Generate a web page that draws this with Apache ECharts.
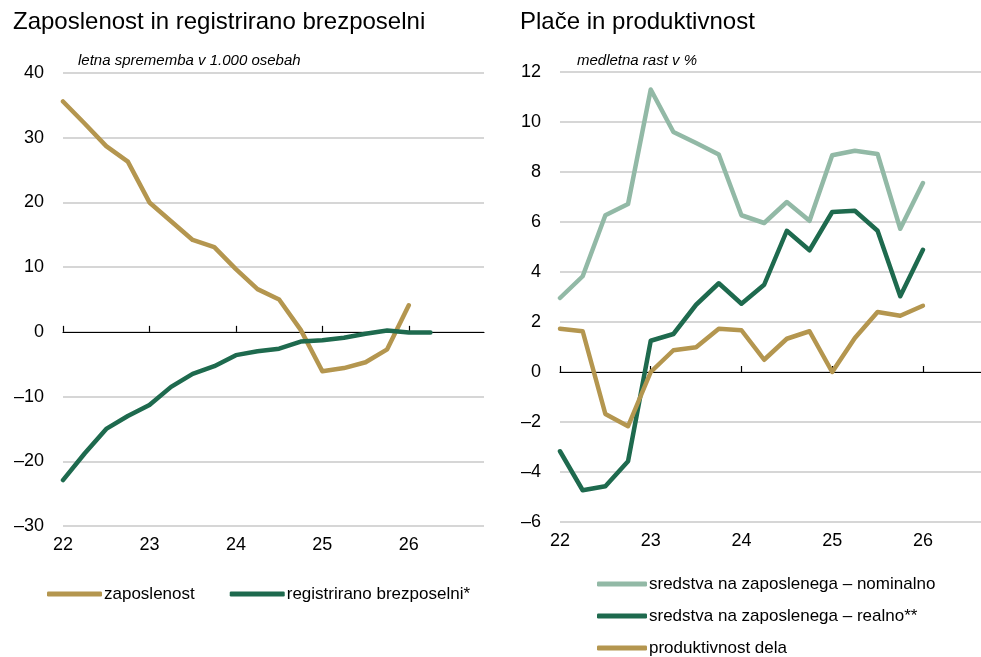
<!DOCTYPE html>
<html>
<head>
<meta charset="utf-8">
<script src="https://cdn.jsdelivr.net/npm/echarts@6/dist/echarts.min.js"></script>
<style>
  html, body { margin: 0; padding: 0; background: #fff; }
  #chart { width: 981px; height: 657px; }
</style>
</head>
<body>
<div id="chart"></div>
<script>
// quarters: 22 = 2022 Q1, 22.25 = 2022 Q2, ...
const quarters = [22, 22.25, 22.5, 22.75, 23, 23.25, 23.5, 23.75, 24, 24.25, 24.5, 24.75, 25, 25.25, 25.5, 25.75, 26, 26.25];
const yearTicks = [22, 23, 24, 25, 26];

// left panel: letna sprememba v 1.000 osebah
const zaposlenost = [35.6, 32.2, 28.7, 26.3, 20.0, 17.1, 14.2, 13.1, 9.7, 6.6, 5.0, 0.3, -6.1, -5.6, -4.7, -2.7, 4.1];
const brezposelni = [-22.9, -18.8, -15.0, -13.0, -11.3, -8.5, -6.5, -5.3, -3.6, -3.0, -2.6, -1.5, -1.3, -0.9, -0.3, 0.2, -0.1, -0.1];

// right panel: medletna rast v %
const nominalno = [2.96, 3.83, 6.27, 6.72, 11.3, 9.6, 9.16, 8.7, 6.27, 5.96, 6.8, 6.05, 8.67, 8.85, 8.72, 5.73, 7.56];
const realno = [-3.17, -4.73, -4.57, -3.57, 1.25, 1.52, 2.69, 3.55, 2.73, 3.49, 5.65, 4.87, 6.4, 6.45, 5.65, 3.03, 4.89];
const produktivnost = [1.73, 1.63, -1.68, -2.17, 0, 0.87, 0.99, 1.73, 1.67, 0.49, 1.33, 1.63, 0, 1.36, 2.4, 2.25, 2.65];

const rightNames = ["sredstva na zaposlenega \u2013 nominalno", "sredstva na zaposlenega \u2013 realno**", "produktivnost dela"];

const GOLD = "#b4964f";
const DARK = "#1e6a4e";
const LIGHT = "#92b9a6";
const FONT = "Liberation Sans, Arial, sans-serif";

function pairs(vals) {
  return vals.map((v, i) => [quarters[i], v]);
}
function dashMinus(v) {
  return String(v).replace("-", "\u2013");
}

const chart = echarts.init(document.getElementById("chart"));

function xAxes(gridIndex, max, yIdx) {
  return [
    {
      // labels at the bottom
      type: "value",
      gridIndex: gridIndex,
      min: 22,
      max: max,
      axisLine: { show: false, onZero: false },
      axisTick: { show: false },
      splitLine: { show: false },
      axisLabel: {
        customValues: yearTicks,
        color: "#000",
        fontFamily: FONT,
        fontSize: 18,
        margin: 10
      }
    },
    {
      // zero line with ticks
      type: "value",
      gridIndex: gridIndex,
      min: 22,
      max: max,
      axisLine: { show: true, onZero: true, onZeroAxisIndex: yIdx, lineStyle: { color: "#000", width: 1.2 } },
      axisTick: { show: true, inside: false, length: 6, customValues: yearTicks, lineStyle: { color: "#000", width: 1.2 } },
      splitLine: { show: false },
      axisLabel: { show: false }
    }
  ];
}

function yAxis(gridIndex, min, max, interval) {
  return {
    type: "value",
    gridIndex: gridIndex,
    min: min,
    max: max,
    interval: interval,
    axisLine: { show: false },
    axisTick: { show: false },
    splitLine: { lineStyle: { color: "#c8c8c8", width: 1.5 } },
    axisLabel: {
      color: "#000",
      fontFamily: FONT,
      fontSize: 18,
      margin: 19,
      formatter: dashMinus
    }
  };
}

const lineStyle = (color) => ({ color: color, width: 4.5, cap: "round", join: "round" });

const legendText = { fontFamily: FONT, fontSize: 17, color: "#000", lineHeight: 18, padding: [0, 0, 0, -3] };

chart.setOption({
  animation: false,
  backgroundColor: "#fff",
  title: [
    { text: "Zaposlenost in registrirano brezposelni", left: 8, top: 5, textStyle: { fontFamily: FONT, fontSize: 24, fontWeight: "normal", color: "#000" } },
    { text: "Plače in produktivnost", left: 515, top: 5, textStyle: { fontFamily: FONT, fontSize: 24, fontWeight: "normal", color: "#000" } },
    { text: "letna sprememba v 1.000 osebah", left: 73, top: 48, textStyle: { fontFamily: FONT, fontSize: 15, fontStyle: "italic", fontWeight: "normal", color: "#000" } },
    { text: "medletna rast v %", left: 572, top: 48, textStyle: { fontFamily: FONT, fontSize: 15, fontStyle: "italic", fontWeight: "normal", color: "#000" } }
  ],
  grid: [
    { left: 63, right: 497, top: 73, bottom: 131 },
    { left: 560, right: 0, top: 72, bottom: 135 }
  ],
  xAxis: [].concat(xAxes(0, 26.87, 0), xAxes(1, 26.64, 1)),
  yAxis: [yAxis(0, -30, 40, 10), yAxis(1, -6, 12, 2)],
  legend: [
    {
      left: 42, top: 580,
      orient: "horizontal",
      icon: "roundRect",
      itemWidth: 55, itemHeight: 5,
      itemGap: 35,
      textStyle: legendText,
      data: ["zaposlenost", "registrirano brezposelni*"]
    }
  ].concat(rightNames.map((name, i) => ({
    left: 597, top: 575 + i * 32,
    padding: 0,
    orient: "vertical",
    icon: "roundRect",
    itemWidth: 50, itemHeight: 5,
    textStyle: legendText,
    data: [name]
  }))),
  series: [
    { name: "zaposlenost", type: "line", xAxisIndex: 0, yAxisIndex: 0, data: pairs(zaposlenost), showSymbol: false, lineStyle: lineStyle(GOLD), itemStyle: { color: GOLD } },
    { name: "registrirano brezposelni*", type: "line", xAxisIndex: 0, yAxisIndex: 0, data: pairs(brezposelni), showSymbol: false, lineStyle: lineStyle(DARK), itemStyle: { color: DARK } },
    { name: rightNames[0], type: "line", xAxisIndex: 2, yAxisIndex: 1, data: pairs(nominalno), showSymbol: false, lineStyle: lineStyle(LIGHT), itemStyle: { color: LIGHT } },
    { name: rightNames[1], type: "line", xAxisIndex: 2, yAxisIndex: 1, data: pairs(realno), showSymbol: false, lineStyle: lineStyle(DARK), itemStyle: { color: DARK } },
    { name: rightNames[2], type: "line", xAxisIndex: 2, yAxisIndex: 1, data: pairs(produktivnost), showSymbol: false, lineStyle: lineStyle(GOLD), itemStyle: { color: GOLD } }
  ]
});
</script>
</body>
</html>
